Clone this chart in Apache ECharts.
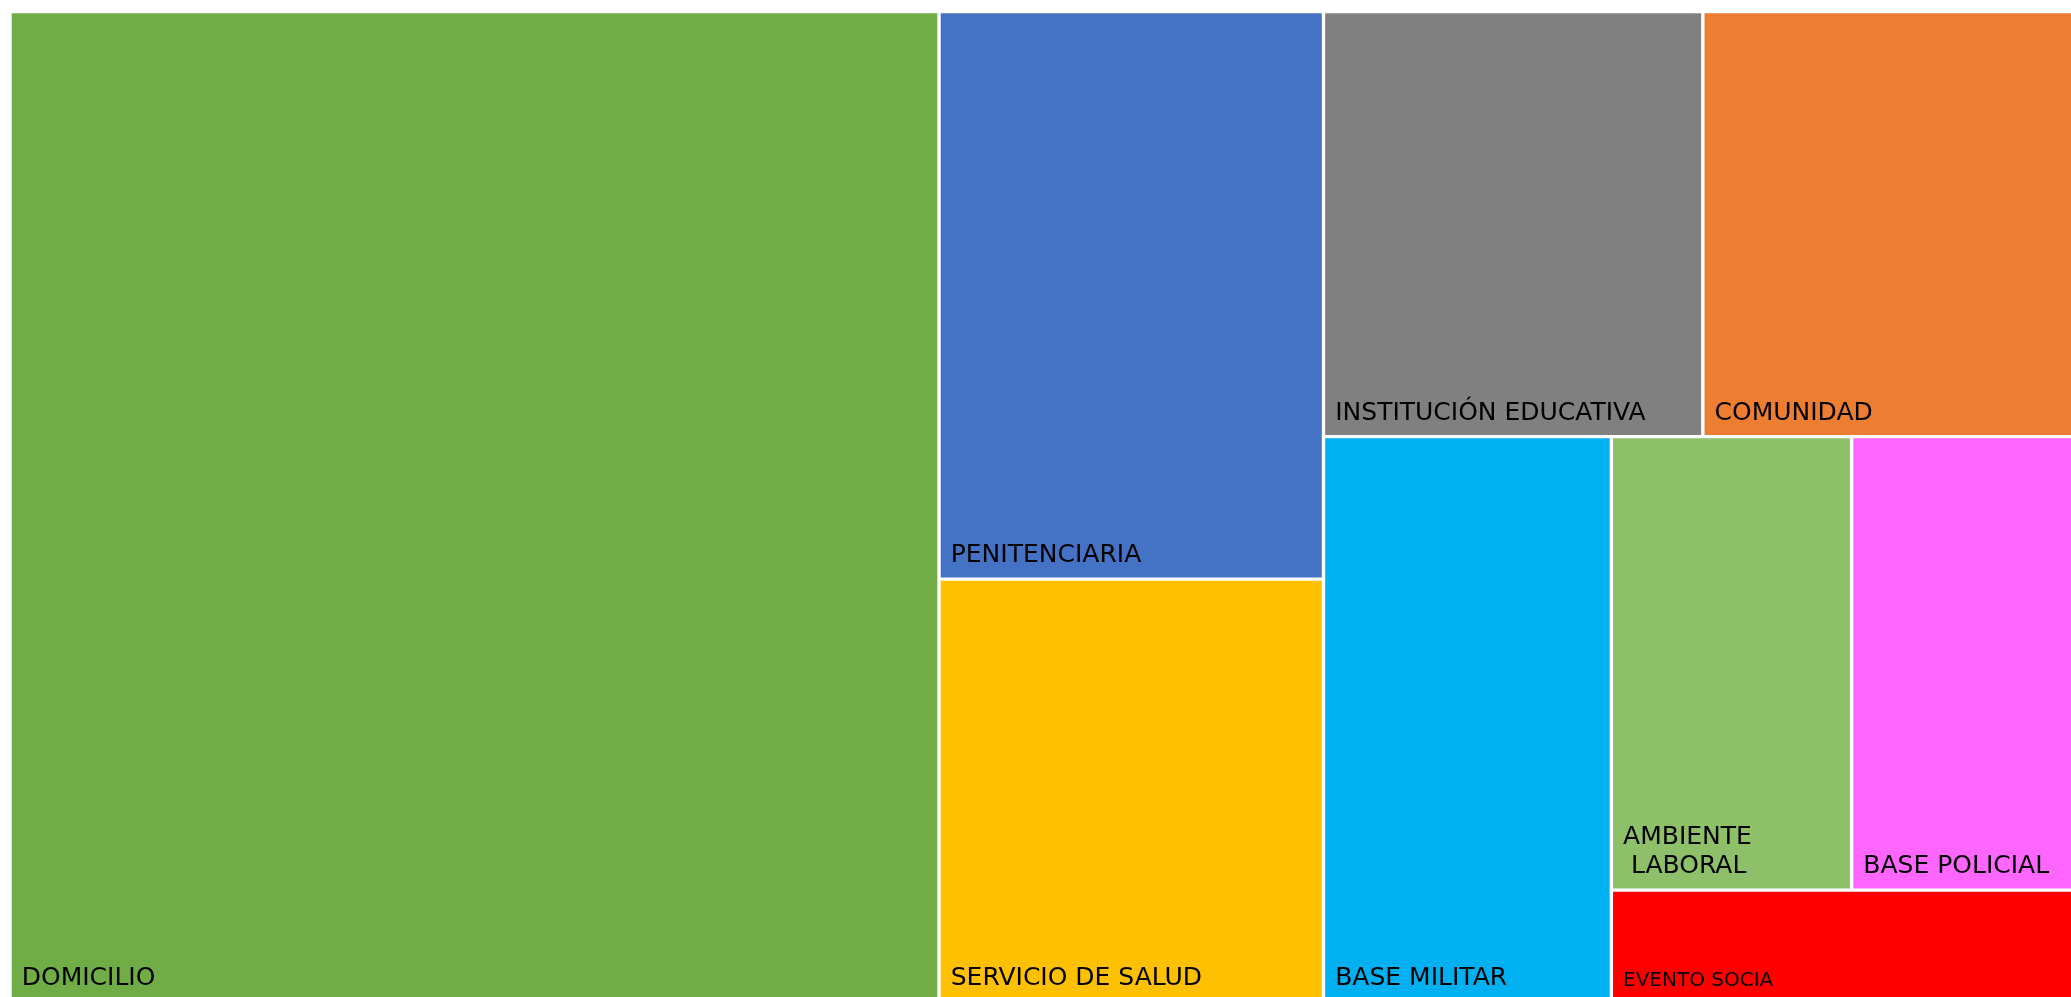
<!DOCTYPE html>
<html>
<head>
<meta charset="utf-8">
<script src="https://cdn.jsdelivr.net/npm/echarts@6/dist/echarts.min.js"></script>
<style>
  html, body { margin: 0; padding: 0; background: #fff; }
  #chart { width: 2071px; height: 997px; }
</style>
</head>
<body>
<div id="chart"></div>
<script>
// lugar de ocurrencia (% del total), en el orden del treemap original
const categories = [
  'DOMICILIO',
  'PENITENCIARIA',
  'SERVICIO DE SALUD',
  'INSTITUCIÓN EDUCATIVA',
  'COMUNIDAD',
  'BASE MILITAR',
  'AMBIENTE LABORAL',
  'BASE POLICIAL',
  'EVENTO SOCIA',
]
const values = [44.73, 10.61, 7.9, 7.84, 7.94, 7.91, 5.3, 5.19, 2.58]
const palette = [
  '#70AD47', '#4472C4', '#FFC000', '#808080', '#ED7D31',
  '#00B0F0', '#8EC06A', '#FF66FF', '#FF0000',
]

// etiquetas que se parten en dos líneas
const wrapped = { 'AMBIENTE LABORAL': 'AMBIENTE\n LABORAL' }

const labelStyle = {
  show: true,
  position: 'insideBottomLeft',
  distance: 7,
  padding: [0, 0, 0, 3],
  color: '#000',
  fontFamily: 'DejaVu Sans',
  fontSize: 25,
  lineHeight: 29,
  formatter: (p) => wrapped[p.name] || p.name,
}

const chart = echarts.init(document.getElementById('chart'))

const data = categories.map((name, i) => {
  const small = i === categories.length - 1
  return {
    name,
    value: values[i],
    itemStyle: { color: palette[i] },
    // cada celda lleva su etiqueta completa; la última, con letra más pequeña
    label: small ? { ...labelStyle, fontSize: 20, lineHeight: 24 } : { ...labelStyle },
  }
})

chart.setOption({
  animation: false,
  series: [
    {
      type: 'treemap',
      left: 11.7,
      top: 13.3,
      width: 2073.6,
      height: 986.7,
      sort: false,
      squareRatio: 1,
      roam: false,
      nodeClick: false,
      breadcrumb: { show: false },
      itemStyle: { borderWidth: 0, gapWidth: 3.4, borderColor: '#fff' },
      label: labelStyle,
      data,
    },
  ],
})
</script>
</body>
</html>
